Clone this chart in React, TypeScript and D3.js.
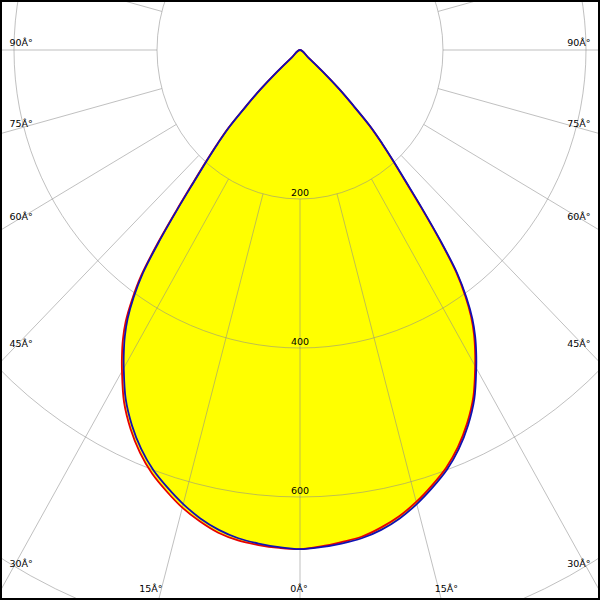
import React from "react";
import * as d3 from "d3";

// Polar angles (degrees from nadir) and luminous intensity values (cd)
const angles = [0, 2.5, 5, 7.5, 10, 12.5, 15, 17.5, 20, 22.5, 25, 27.5, 30, 31.25, 32.5, 33.75, 35, 36.25, 37.5, 38.75, 40, 41.25, 42.5, 43.75, 45, 46.25, 47.5, 48.75, 50];
const bluePlane = [670, 668, 665, 661, 654, 644, 631, 616, 600, 580, 556, 528, 493, 475, 456, 434, 406, 372, 323, 273, 230, 198, 170, 143, 106, 77, 44, 16, 0];
const redLeft = [670, 669, 667, 664, 658, 648, 636, 621, 605, 585, 561, 533, 498, 480, 461, 439, 410, 376, 327, 276, 233, 200, 172, 145, 108, 78, 45, 16, 0];
const redRight = [670, 667, 663, 659, 651, 641, 628, 613, 597, 577, 553, 525, 490, 472, 453, 431, 403, 369, 320, 270, 227, 196, 168, 141, 104, 76, 43, 16, 0];

const rings = [200, 400, 600, 800];
const ringLabels = ["200", "400", "600"];
const spokeAngles = [0, 15, 30, 45, 60, 75, 90, 105, 120, 135, 150, 165, 180];
const sideLabelAngles = [90, 75, 60, 45, 30];
const bottomLabelAngles = [15, 0];

const W = 600, H = 600;
const cx = 300, cy = 50;
const sx = d3.scaleLinear().domain([0, 200]).range([0, 143]);
const sy = d3.scaleLinear().domain([0, 200]).range([0, 149]);
const rad = (a: number) => (a * Math.PI) / 180;

function pt(a: number, v: number, side: number): [number, number] {
  return [cx + side * sx(v * Math.sin(rad(a))), cy + sy(v * Math.cos(rad(a)))];
}

function planePath(left: number[], right: number[]) {
  const pts: [number, number][] = [];
  for (let i = angles.length - 1; i >= 0; i--) pts.push(pt(angles[i], left[i], -1));
  for (let i = 1; i < angles.length - 1; i++) pts.push(pt(angles[i], right[i], 1));
  return d3.line().curve(d3.curveCatmullRomClosed.alpha(0.5))(pts) || "";
}

const font = "'DejaVu Sans', sans-serif";
const gridStroke = "#8c8c8c";
const gridOpacity = 0.55;

export default function App() {
  const redPath = planePath(redLeft, redRight);
  const bluePath = planePath(bluePlane, bluePlane);

  const spokes: { key: string; x1: number; y1: number; x2: number; y2: number }[] = [];
  spokeAngles.forEach((a) => {
    const sides = a === 0 || a === 180 ? [1] : [-1, 1];
    sides.forEach((s) => {
      const [x1, y1] = pt(a, 200, s);
      const [x2, y2] = pt(a, 1400, s);
      spokes.push({ key: `${a}_${s}`, x1, y1, x2, y2 });
    });
  });

  const labels: { key: string; x: number; y: number; anchor: string; text: string }[] = [];
  sideLabelAngles.forEach((a) => {
    const t = sx.invert(cx - 11.5) / Math.sin(rad(a));
    const y = cy + sy(t * Math.cos(rad(a))) - 4;
    labels.push({ key: `l${a}`, x: 9.5, y, anchor: "start", text: `${a}Â°` });
    labels.push({ key: `r${a}`, x: W - 9.5, y, anchor: "end", text: `${a}Â°` });
  });
  const baseY = 592;
  bottomLabelAngles.forEach((a) => {
    if (a === 0) {
      labels.push({ key: "b0", x: cx - 1, y: baseY, anchor: "middle", text: `${a}Â°` });
    } else {
      const t = sy.invert(baseY - cy) / Math.cos(rad(a));
      const dx = sx(t * Math.sin(rad(a)));
      labels.push({ key: `bl${a}`, x: cx - dx + 2, y: baseY, anchor: "end", text: `${a}Â°` });
      labels.push({ key: `br${a}`, x: cx + dx - 4.7, y: baseY, anchor: "start", text: `${a}Â°` });
    }
  });

  return (
    <svg
      width={W}
      height={H}
      viewBox={`0 0 ${W} ${H}`}
      style={{ position: "absolute", left: 0, top: 0, background: "#fff" }}
    >
      <rect x={0} y={0} width={W} height={H} fill="#fff" />
      <path d={redPath} fill="#ffff00" stroke="none" />
      <path d={bluePath} fill="#ffff00" stroke="none" />
      <g stroke={gridStroke} strokeOpacity={gridOpacity} fill="none" strokeWidth={1}>
        {rings.map((r) => (
          <ellipse key={r} cx={cx} cy={cy} rx={sx(r)} ry={sy(r)} />
        ))}
        {spokes.map((s) => (
          <line key={s.key} x1={s.x1} y1={s.y1} x2={s.x2} y2={s.y2} />
        ))}
      </g>
      <g fontFamily={font} fontSize={9.5} fill="#000">
        {ringLabels.map((l, i) => (
          <text key={l} x={cx} y={cy + sy(rings[i]) - 3.5} textAnchor="middle">
            {l}
          </text>
        ))}
        {labels.map((l) => (
          <text key={l.key} x={l.x} y={l.y} textAnchor={l.anchor as any}>
            {l.text}
          </text>
        ))}
      </g>
      <path d={redPath} fill="none" stroke="#e80000" strokeWidth={1.8} strokeLinejoin="round" />
      <path d={bluePath} fill="none" stroke="#1010b4" strokeWidth={1.8} strokeLinejoin="round" />
      <rect x={1} y={1} width={W - 2} height={H - 2} fill="none" stroke="#000" strokeWidth={2} />
    </svg>
  );
}
